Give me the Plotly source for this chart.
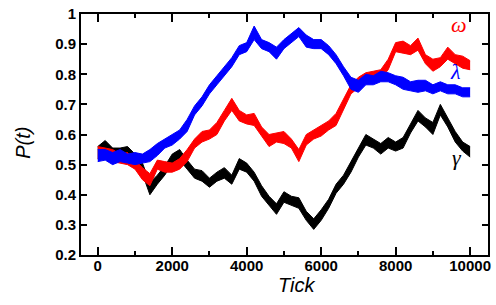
import plotly.graph_objects as go

# Tick positions at which the band envelopes were read (every 200 ticks)
ticks = list(range(0, 10001, 200))

# lambda (blue) band: upper / lower envelope
lam_hi = [0.55,0.55,0.54,0.55,0.535,0.54,0.535,0.55,0.57,0.585,0.60,0.615,0.65,0.695,0.725,0.765,0.795,0.825,0.855,0.895,0.905,0.96,0.915,0.905,0.89,0.915,0.935,0.955,0.93,0.915,0.915,0.895,0.865,0.825,0.79,0.78,0.80,0.795,0.81,0.805,0.795,0.79,0.775,0.78,0.78,0.765,0.775,0.765,0.765,0.755,0.755]
lam_lo = [0.51,0.515,0.50,0.51,0.505,0.50,0.505,0.51,0.53,0.555,0.565,0.585,0.61,0.665,0.695,0.735,0.765,0.795,0.825,0.865,0.875,0.915,0.885,0.875,0.85,0.885,0.905,0.925,0.89,0.885,0.885,0.865,0.835,0.795,0.75,0.74,0.765,0.765,0.775,0.775,0.765,0.75,0.745,0.74,0.745,0.735,0.745,0.735,0.735,0.725,0.725]

# omega (red) band
om_hi = [0.56,0.555,0.55,0.535,0.54,0.515,0.49,0.47,0.515,0.51,0.505,0.52,0.55,0.585,0.61,0.615,0.64,0.68,0.72,0.68,0.665,0.67,0.625,0.60,0.605,0.61,0.585,0.55,0.60,0.615,0.63,0.645,0.67,0.715,0.765,0.79,0.805,0.81,0.815,0.85,0.905,0.91,0.895,0.92,0.865,0.85,0.855,0.89,0.865,0.86,0.845]
om_lo = [0.52,0.525,0.51,0.505,0.50,0.485,0.45,0.43,0.485,0.475,0.475,0.485,0.51,0.555,0.575,0.585,0.60,0.645,0.68,0.645,0.635,0.63,0.595,0.56,0.575,0.57,0.555,0.51,0.565,0.585,0.595,0.615,0.63,0.685,0.735,0.755,0.775,0.77,0.785,0.815,0.875,0.87,0.865,0.88,0.835,0.81,0.825,0.85,0.835,0.82,0.815]

# gamma (black) band
ga_hi = [0.56,0.58,0.555,0.555,0.56,0.535,0.505,0.44,0.465,0.495,0.535,0.55,0.515,0.485,0.48,0.455,0.475,0.49,0.465,0.52,0.505,0.475,0.43,0.395,0.37,0.41,0.395,0.39,0.345,0.32,0.35,0.385,0.435,0.465,0.51,0.555,0.60,0.585,0.57,0.59,0.575,0.59,0.635,0.68,0.655,0.64,0.70,0.655,0.61,0.575,0.56]
ga_lo = [0.52,0.54,0.525,0.52,0.525,0.505,0.47,0.40,0.435,0.465,0.505,0.515,0.485,0.455,0.445,0.425,0.445,0.455,0.435,0.485,0.475,0.445,0.395,0.365,0.335,0.375,0.365,0.355,0.315,0.285,0.315,0.355,0.405,0.435,0.475,0.525,0.565,0.555,0.535,0.555,0.545,0.555,0.605,0.645,0.625,0.60,0.665,0.625,0.575,0.545,0.525]

x_ticks = [0, 2000, 4000, 6000, 8000, 10000]
x_labels = ["0", "2000", "4000", "6000", "8000", "10000"]
x_minor = [1000, 3000, 5000, 7000, 9000]
y_ticks = [0.2, 0.3, 0.4, 0.5, 0.6, 0.7, 0.8, 0.9, 1.0]
y_labels = ["0.2", "0.3", "0.4", "0.5", "0.6", "0.7", "0.8", "0.9", "1"]

series = [
    ("γ", ga_lo, ga_hi, "#000000"),
    ("ω", om_lo, om_hi, "#ff0000"),
    ("λ", lam_lo, lam_hi, "#0000ff"),
]

fig = go.Figure()
for name, lo, hi, col in series:
    fig.add_trace(go.Scatter(x=ticks, y=lo, mode="lines", line=dict(color=col, width=1),
                             showlegend=False, hoverinfo="skip"))
    fig.add_trace(go.Scatter(x=ticks, y=hi, mode="lines", line=dict(color=col, width=1),
                             fill="tonexty", fillcolor=col, showlegend=False, name=name))

tickfont = dict(family="Liberation Sans", size=15, color="black", weight="bold")

fig.update_layout(
    width=496, height=305,
    margin=dict(l=81, r=5, t=9, b=50),
    paper_bgcolor="white", plot_bgcolor="white",
    xaxis=dict(range=[-450, 10480], tickvals=x_ticks, ticktext=x_labels,
               ticks="inside", ticklen=8, tickwidth=1.5, tickcolor="black",
               ticklabelstandoff=-4,
               minor=dict(ticks="inside", tickvals=x_minor,
                          ticklen=4, tickwidth=1.5, tickcolor="black"),
               showline=True, linewidth=2, linecolor="black", mirror="ticks",
               showgrid=False, zeroline=False, tickfont=tickfont),
    yaxis=dict(range=[0.2, 1.0], tickvals=y_ticks, ticktext=y_labels,
               ticks="inside", ticklen=6, tickwidth=1.5, tickcolor="black",
               showline=True, linewidth=2, linecolor="black", mirror="ticks",
               showgrid=False, zeroline=False, tickfont=tickfont),
    annotations=[
        dict(text="P(t)", xref="paper", yref="paper", x=-0.1415, y=0.467,
             xanchor="center", yanchor="middle", textangle=-90, showarrow=False,
             font=dict(family="Liberation Sans", size=20, style="italic", color="black")),
        dict(text="Tick", xref="paper", yref="paper", x=0.529, y=-0.126,
             xanchor="center", yanchor="middle", showarrow=False,
             font=dict(family="Liberation Sans", size=20, style="italic", color="black")),
        dict(text="ω", xref="x", yref="y", x=9706, y=0.966, xanchor="center", yanchor="middle",
             showarrow=False,
             font=dict(family="Liberation Serif", size=22, style="italic", color="#ff0000")),
        dict(text="λ", xref="x", yref="y", x=9600, y=0.809, xanchor="center", yanchor="middle",
             showarrow=False,
             font=dict(family="Liberation Serif", size=22, style="italic", color="#0000ff")),
        dict(text="γ", xref="x", yref="y", x=9650, y=0.523, xanchor="center", yanchor="middle",
             showarrow=False,
             font=dict(family="Liberation Serif", size=22, style="italic", color="#000000")),
    ],
)

fig.write_html("out.html", config={"displayModeBar": False},
               post_script="document.body.style.margin='0';")
